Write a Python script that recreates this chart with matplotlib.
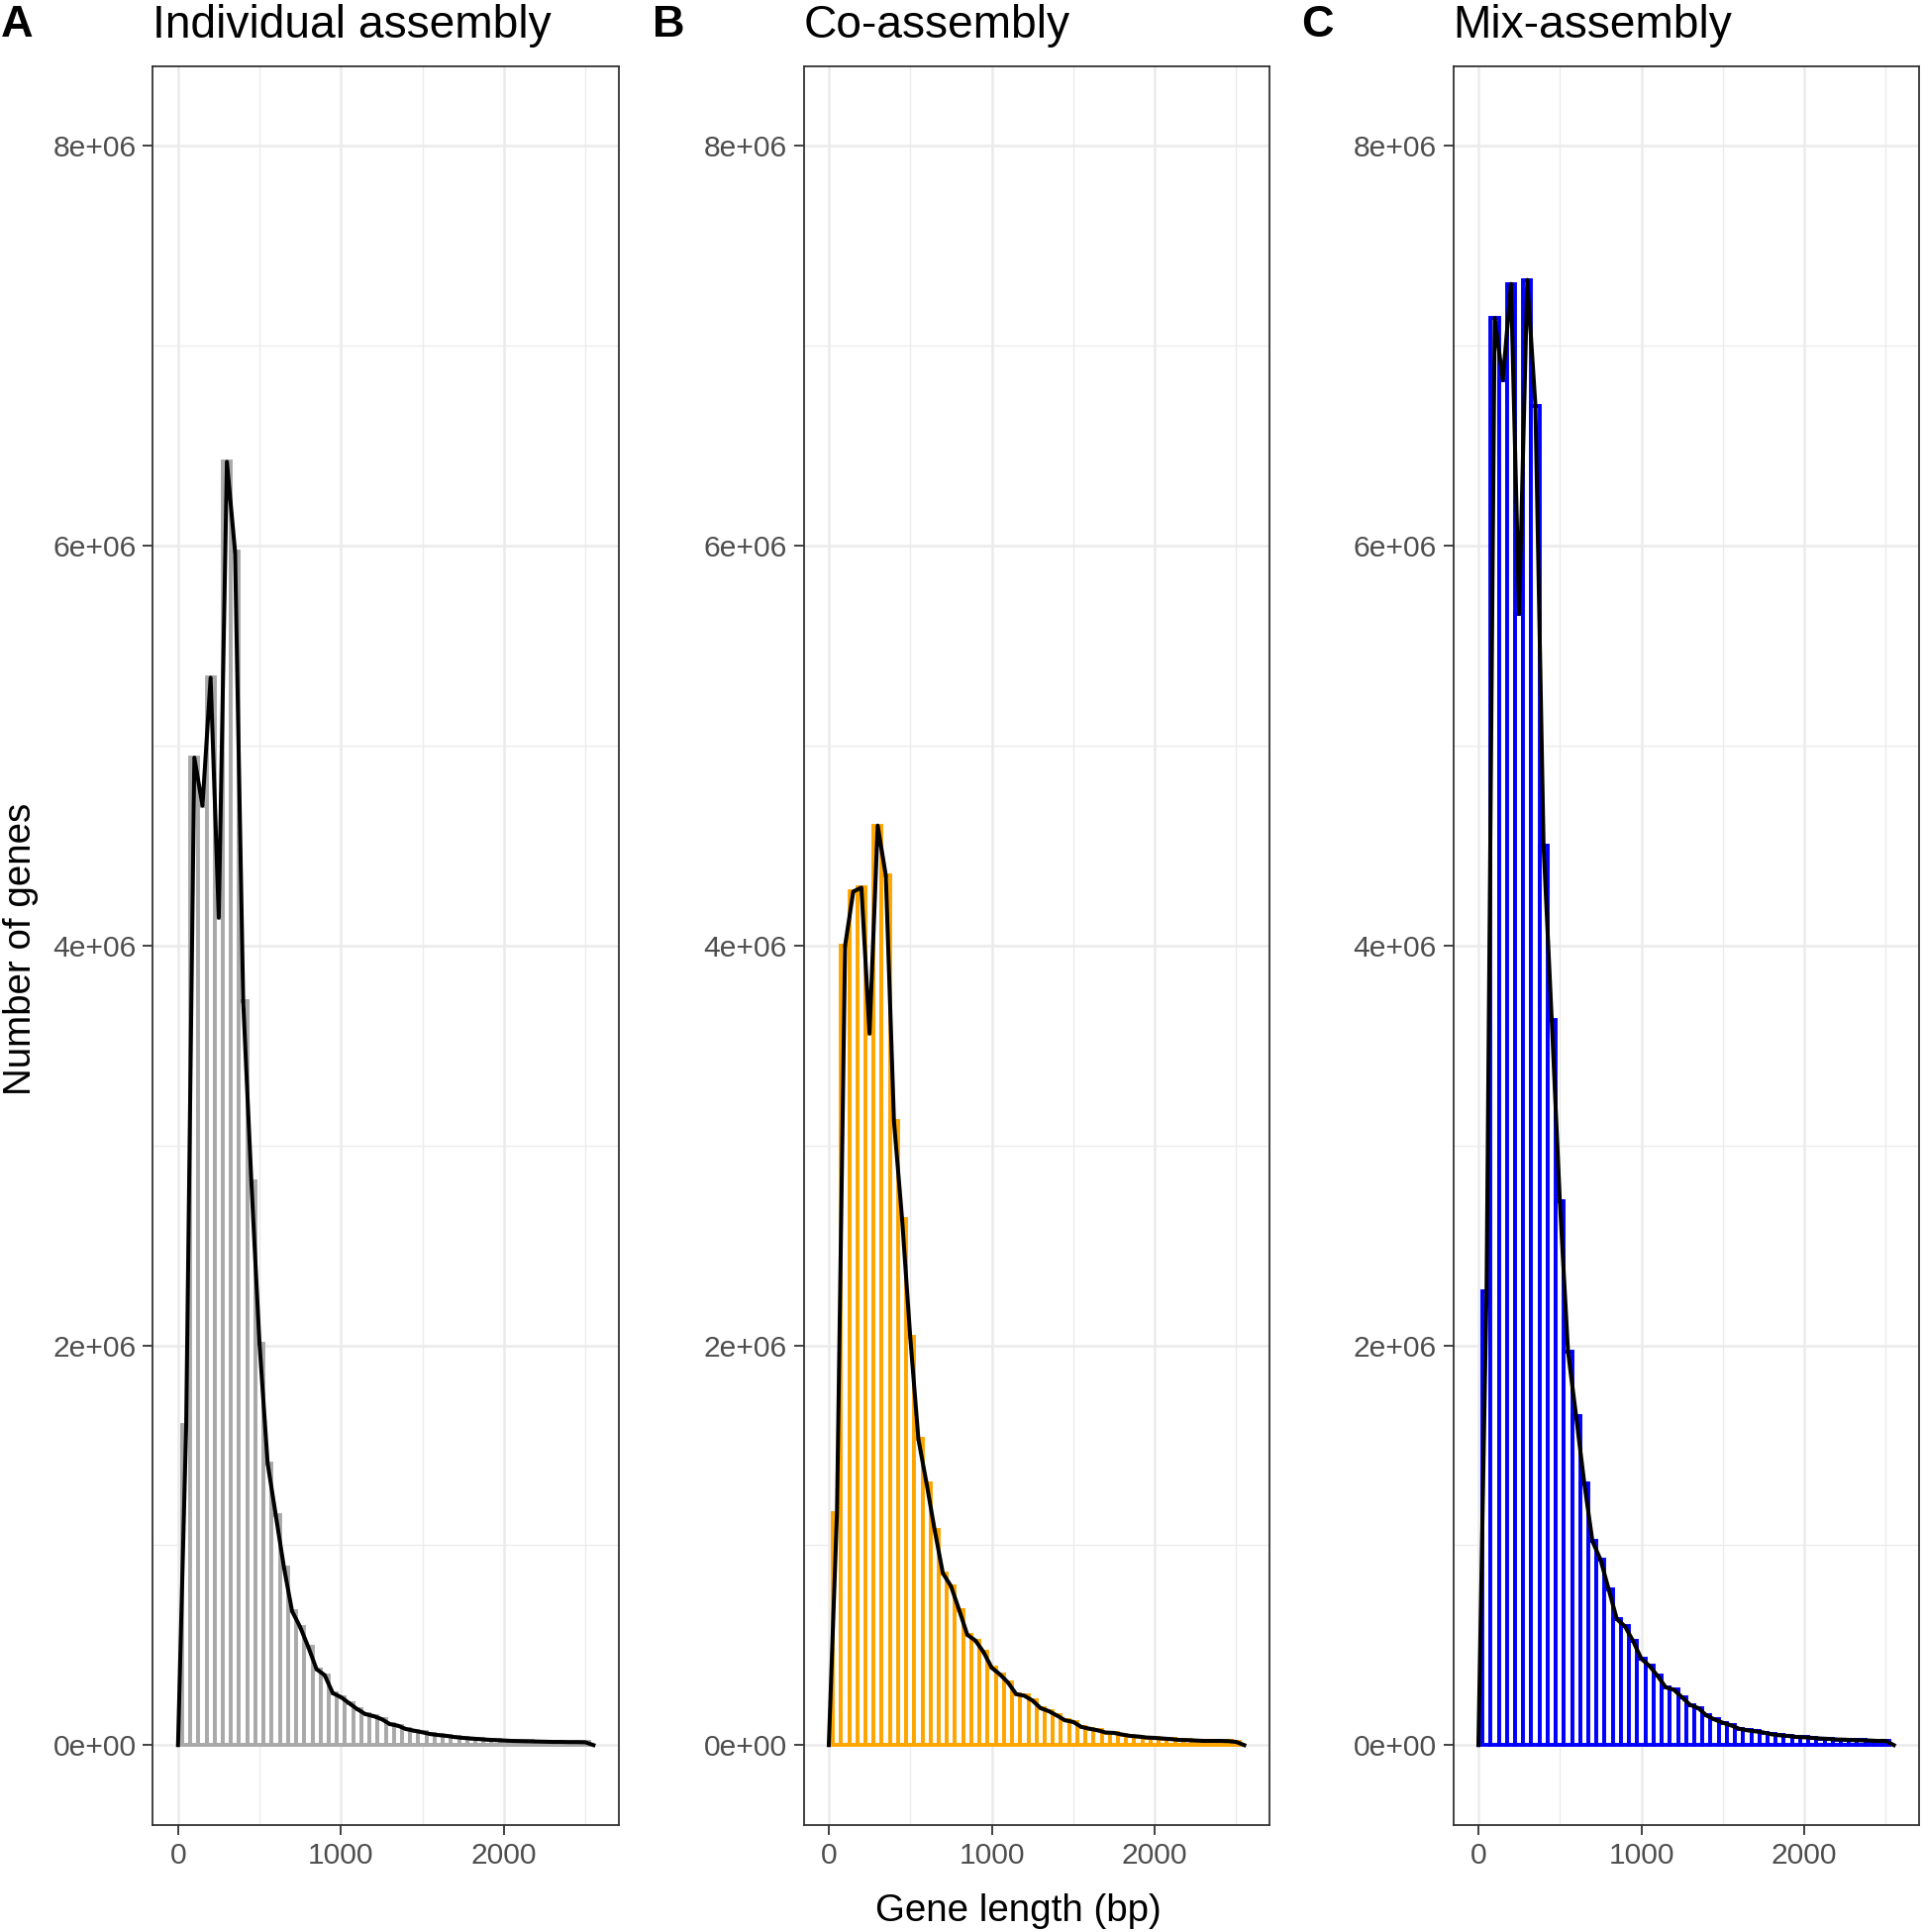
# gene length distribution, three assembly strategies

import numpy as np
import matplotlib.pyplot as plt

plt.rcParams['font.family'] = ['Liberation Sans', 'DejaVu Sans']

# bin centres (bp), binwidth 50
bin_centers = list(range(50, 2550, 50))

# number of genes per bin, in millions
individual_counts = [1.60, 4.94, 4.70, 5.34, 4.14, 6.42, 5.97, 3.72, 2.82, 2.01,
                     1.41, 1.15, 0.89, 0.67, 0.59, 0.49, 0.38, 0.35, 0.26, 0.24,
                     0.21, 0.18, 0.155, 0.145, 0.13, 0.105, 0.097, 0.08, 0.072, 0.064,
                     0.055, 0.05, 0.046, 0.04, 0.036, 0.033, 0.03, 0.027, 0.025, 0.023,
                     0.021, 0.02, 0.019, 0.018, 0.017, 0.016, 0.016, 0.015, 0.015, 0.014]
co_counts = [1.16, 4.00, 4.27, 4.29, 3.56, 4.60, 4.35, 3.12, 2.63, 2.04,
             1.53, 1.31, 1.075, 0.86, 0.795, 0.676, 0.552, 0.523, 0.465, 0.387,
             0.354, 0.313, 0.255, 0.247, 0.223, 0.185, 0.17, 0.148, 0.124, 0.116,
             0.091, 0.082, 0.074, 0.063, 0.061, 0.053, 0.046, 0.043, 0.038, 0.036,
             0.033, 0.03, 0.026, 0.025, 0.023, 0.021, 0.021, 0.021, 0.02, 0.016]
mix_counts = [2.27, 7.14, 6.83, 7.31, 5.66, 7.33, 6.70, 4.50, 3.63, 2.72,
              1.97, 1.645, 1.31, 1.02, 0.927, 0.778, 0.63, 0.594, 0.52, 0.432,
              0.396, 0.346, 0.289, 0.277, 0.239, 0.201, 0.185, 0.148, 0.128, 0.112,
              0.099, 0.082, 0.074, 0.069, 0.063, 0.054, 0.049, 0.046, 0.041, 0.039,
              0.036, 0.033, 0.031, 0.028, 0.027, 0.025, 0.024, 0.023, 0.021, 0.021]

panel_letters = ['A', 'B', 'C']
panel_titles = ['Individual assembly', 'Co-assembly', 'Mix-assembly']
bar_colors = ['darkgray', 'orange', 'blue']
y_ticks = [0, 2e6, 4e6, 6e6, 8e6]
y_ticklabels = ['0e+00', '2e+06', '4e+06', '6e+06', '8e+06']
x_ticks = [0, 1000, 2000]
x_ticklabels = ['0', '1000', '2000']

all_counts = [individual_counts, co_counts, mix_counts]

W, H = 1944, 1951
fig = plt.figure(figsize=(W / 100, H / 100), dpi=100)

# axes boxes in pixels (left, right)
panel_lr = [(154.3, 624.8), (811.5, 1282.0), (1467.5, 1938.0)]
panel_top, panel_bottom = 66.7, 1843.0

for i in range(3):
    left, right = panel_lr[i]
    ax = fig.add_axes([left / W, 1 - panel_bottom / H, (right - left) / W, (panel_bottom - panel_top) / H])

    counts = np.array(all_counts[i]) * 1e6
    # histogram bars: coloured outline, white inside
    ax.bar(bin_centers, counts, width=50, facecolor='white', edgecolor=bar_colors[i],
           linewidth=2.8, zorder=2)
    # frequency polygon through the bin tops, padded with zeros at both ends
    line_x = [0] + bin_centers + [2550]
    line_y = [0] + list(counts) + [0]
    ax.plot(line_x, line_y, color='black', linewidth=2.9, zorder=3)

    ax.set_xlim(-155, 2705)
    ax.set_ylim(-0.4e6, 8.4e6)
    ax.set_xticks(x_ticks)
    ax.set_xticklabels(x_ticklabels)
    ax.set_yticks(y_ticks)
    ax.set_yticklabels(y_ticklabels)
    ax.set_xticks([500, 1500, 2500], minor=True)
    ax.set_yticks([1e6, 3e6, 5e6, 7e6], minor=True)

    ax.set_axisbelow(True)
    ax.grid(which='major', color='#EBEBEB', linewidth=1.8)
    ax.grid(which='minor', color='#EBEBEB', linewidth=1.0)
    ax.tick_params(which='major', length=7, width=1.3, color='#333333',
                   labelsize=21.6, labelcolor='#4D4D4D', pad=5)
    ax.tick_params(which='minor', length=0)
    for s in ax.spines.values():
        s.set_color('#333333')
        s.set_linewidth(1.3)

    ax.set_title(panel_titles[i], loc='left', fontsize=33.2, pad=21)
    fig.text((left - 153) / W, 1 - 37 / H, panel_letters[i], fontsize=32.5,
             fontweight='bold', ha='left', va='baseline')

fig.text(21 / W, 1 - 958 / H, 'Number of genes', rotation=90, fontsize=27.7,
         ha='center', va='center')
fig.text(1028 / W, 1 - 1940 / H, 'Gene length (bp)', fontsize=27.7,
         ha='center', va='baseline')

fig.savefig('out.png', dpi=100)
